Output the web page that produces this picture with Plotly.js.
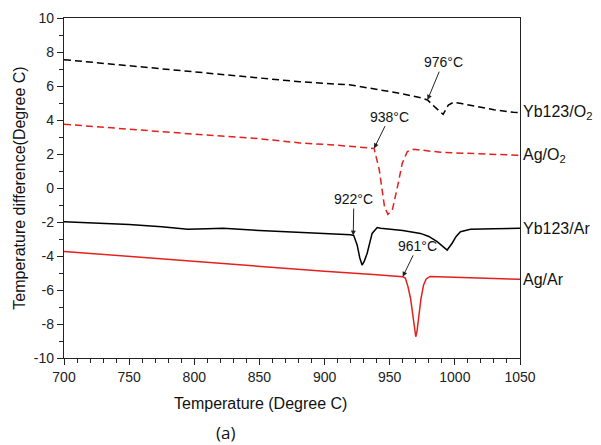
<!DOCTYPE html>
<html>
<head>
<meta charset="utf-8">
<script src="https://cdn.plot.ly/plotly-3.0.1.min.js"></script>
<style>html,body{margin:0;padding:0;background:#fff;}#chart{width:601px;height:445px;}</style>
</head>
<body>
<div id="chart"></div>
<script>
// Yb123 / O2 (dashed black)
const ybO2_x = [700,750,800,850,881,920,958,974,979,985,991,995,999,1005,1017,1030,1045,1050];
const ybO2_y = [7.55,7.2,6.85,6.5,6.25,6.06,5.57,5.3,5.18,4.74,4.33,4.88,5.04,4.97,4.78,4.6,4.45,4.43];
// Ag / O2 (dashed red)
const agO2_x = [700,750,800,850,881,904,938,942,944,946,948.6,952,956,959.6,963.5,968.5,989,1020,1050];
const agO2_y = [3.75,3.45,3.17,2.9,2.65,2.55,2.33,1.06,-0.12,-1.1,-1.55,-1.29,0.08,1.45,2.14,2.28,2.1,2.0,1.92];
// Yb123 / Ar (solid black)
const ybAr_x = [700,750,775,795,810,822,850,880,910,920,922.4,925,927,928.8,930.5,932.7,936.5,940.4,943,950,960,973.6,980,986.4,990,994.1,997.9,1001,1004.3,1012,1030,1050];
const ybAr_y = [-1.98,-2.15,-2.28,-2.43,-2.4,-2.37,-2.5,-2.6,-2.7,-2.75,-2.8,-3.35,-4.1,-4.53,-4.3,-3.84,-2.67,-2.33,-2.37,-2.42,-2.5,-2.67,-2.85,-3.16,-3.4,-3.65,-3.25,-2.85,-2.57,-2.43,-2.4,-2.37];
// Ag / Ar (solid red)
const agAr_x = [700,750,800,850,900,940,960,962,964,966,968,969,970,971,972,974,976,978,981,990,1020,1050];
const agAr_y = [-3.73,-4.03,-4.33,-4.63,-4.9,-5.1,-5.22,-5.3,-5.8,-6.5,-7.7,-8.4,-8.75,-8.4,-7.8,-6.5,-5.7,-5.35,-5.2,-5.22,-5.3,-5.37];

// Tick labels
const xTickVals = [700,750,800,850,900,950,1000,1050];
const xTickText = ['700','750','800','850','900','950','1000','1050'];
const yTickVals = [10,8,6,4,2,0,-2,-4,-6,-8,-10];
const yTickText = ['10','8','6','4','2','0','-2','-4','-6','-8','-10'];

// Series labels (right side)
const seriesLabels = ["Yb123/O<sub>2</sub>", "Ag/O<sub>2</sub>", "Yb123/Ar", "Ag/Ar"];
const seriesLabelY = [4.43, 1.92, -2.37, -5.37];

// Onset annotations: temperature text, arrow tip (x,y), text position (x,y)
const onsetText = ["976°C", "938°C", "922°C", "961°C"];
const onsetTipX = [979, 938, 922, 960];
const onsetTipY = [5.18, 2.33, -2.8, -5.22];
const onsetTxtX = [991, 950, 922.5, 971.5];
const onsetTxtY = [7.4, 4.2, -0.65, -3.4];

const red = '#e3201c';
const FONT = 'Liberation Sans, Arial, sans-serif';

const traces = [
  {x: ybO2_x, y: ybO2_y, mode: 'lines', line: {color: '#000', width: 1.5, dash: '7px,4px'}},
  {x: agO2_x, y: agO2_y, mode: 'lines', line: {color: red, width: 1.5, dash: '7px,4px'}},
  {x: ybAr_x, y: ybAr_y, mode: 'lines', line: {color: '#000', width: 1.5}},
  {x: agAr_x, y: agAr_y, mode: 'lines', line: {color: red, width: 1.5}}
];

const annotations = [];
for (let i = 0; i < onsetText.length; i++) {
  annotations.push({
    x: onsetTipX[i], y: onsetTipY[i], xref: 'x', yref: 'y',
    ax: onsetTxtX[i], ay: onsetTxtY[i], axref: 'x', ayref: 'y',
    text: onsetText[i], showarrow: true, arrowhead: 2, arrowsize: 1, arrowwidth: 1,
    arrowcolor: '#222', font: {family: FONT, size: 14, color: '#111'}
  });
}
for (let i = 0; i < seriesLabels.length; i++) {
  annotations.push({
    x: 1, xref: 'paper', xanchor: 'left', xshift: 1,
    y: seriesLabelY[i], yref: 'y', yanchor: 'middle',
    text: seriesLabels[i], showarrow: false,
    font: {family: FONT, size: 16, color: '#111'}
  });
}
// x-axis title (placed as in the reference, left of plot centre)
annotations.push({
  x: 0.431, xref: 'paper', y: -0.135, yref: 'paper', yanchor: 'middle',
  text: 'Temperature (Degree C)', showarrow: false,
  font: {family: FONT, size: 16, color: '#111'}
});
annotations.push({
  x: 0.329, xref: 'paper', y: -0.218, yref: 'paper', yanchor: 'middle',
  text: '(a)', showarrow: false, font: {family: 'Open Sans, sans-serif', size: 17, color: '#111'}
});

const layout = {
  width: 601, height: 445,
  margin: {l: 64, r: 81, t: 18, b: 87},
  paper_bgcolor: '#fff', plot_bgcolor: '#fff',
  showlegend: false,
  font: {family: FONT, color: '#111'},
  xaxis: {
    range: [700, 1050], tickmode: 'array', tickvals: xTickVals, ticktext: xTickText,
    showgrid: false, zeroline: false,
    showline: true, linecolor: '#222', linewidth: 1.2, mirror: true,
    ticks: 'outside', ticklen: 6, tickwidth: 1, tickcolor: '#222',
    minor: {dtick: 10, tick0: 700, ticks: 'outside', ticklen: 4, tickcolor: '#222', tickwidth: 1, showgrid: false},
    tickfont: {family: FONT, size: 14, color: '#222'}
  },
  yaxis: {
    range: [-10, 10], tickmode: 'array', tickvals: yTickVals, ticktext: yTickText,
    showgrid: false, zeroline: false,
    showline: true, linecolor: '#222', linewidth: 1.2, mirror: true,
    ticks: 'outside', ticklen: 6, tickwidth: 1, tickcolor: '#222',
    minor: {dtick: 1, tick0: 0, ticks: 'outside', ticklen: 4, tickcolor: '#222', tickwidth: 1, showgrid: false},
    tickfont: {family: FONT, size: 14, color: '#222'},
    title: {text: 'Temperature difference(Degree C)', font: {family: FONT, size: 16, color: '#111'}, standoff: 4}
  },
  annotations: annotations
};

Plotly.newPlot('chart', traces, layout, {displayModeBar: false, staticPlot: true});
</script>
</body>
</html>
